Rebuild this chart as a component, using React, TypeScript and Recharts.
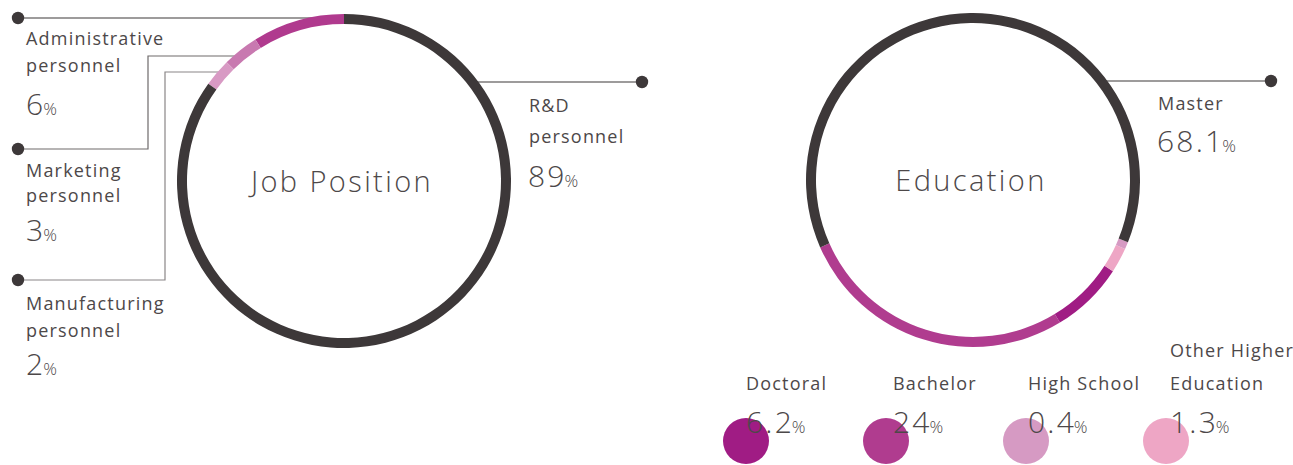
import React from 'react';
import { PieChart, Pie, Cell } from 'recharts';

// ---- Data ----
const jobNames = ['Administrative personnel', 'Marketing personnel', 'Manufacturing personnel', 'R&D personnel'];
const jobLabelValues = ['6', '3', '2', '89'];
const jobArcShares = [8.9, 3.5, 2.7, 84.9];
const jobColors = ['#b03a8e', '#c879b0', '#d89ac4', '#3d3839'];

const eduNames = ['Bachelor', 'Doctoral', 'Other Higher Education', 'High School', 'Master'];
const eduLabelValues = ['24', '6.2', '1.3', '0.4', '68.1'];
const eduArcShares = [27.1, 7.1, 2.4, 0.7, 62.7];
const eduColors = ['#b03c8f', '#a01c84', '#eea6c5', '#d69ac3', '#3d3839'];

const legendOrder = ['Doctoral', 'Bachelor', 'High School', 'Other Higher Education'];
const legendLines: Record<string, string[]> = {
  Doctoral: ['Doctoral'],
  Bachelor: ['Bachelor'],
  'High School': ['High School'],
  'Other Higher Education': ['Other Higher', 'Education'],
};

const jobData = jobNames.map((name, i) => ({ name, arc: jobArcShares[i], label: jobLabelValues[i] }));
const eduData = eduNames.map((name, i) => ({ name, arc: eduArcShares[i], label: eduLabelValues[i] }));

const W = 1293;
const H = 465;
const FONT = '"Open Sans", sans-serif';
const TXT = '#4d4849';
const DARK = '#3d3839';

function Num({ x, y, v }: { x: number; y: number; v: string }) {
  return (
    <text x={x} y={y} fill={TXT} fontFamily={FONT} fontWeight={300}>
      <tspan fontSize={30} letterSpacing={2.2}>{v}</tspan>
      <tspan fontSize={17} letterSpacing={0} dx={-2.2}>%</tspan>
    </text>
  );
}

function Label({ x, y, t }: { x: number; y: number; t: string }) {
  return (
    <text x={x} y={y} fill={TXT} fontFamily={FONT} fontSize={18} letterSpacing={1.2} fontWeight={400}>
      {t}
    </text>
  );
}

export default function App() {
  const jv = (n: string) => jobData.find((d) => d.name === n)!.label;
  const ev = (n: string) => eduData.find((d) => d.name === n)!.label;
  const legendX = [746, 893, 1028, 1170];
  const circleX = [746, 886, 1026, 1166];
  return (
    <div style={{ position: 'absolute', left: 0, top: 0, width: W, height: H, background: '#fff' }}>
      {/* connectors below ring */}
      <svg width={W} height={H} style={{ position: 'absolute', left: 0, top: 0 }}>
        <path d="M18,18 H315" stroke={DARK} strokeWidth={1.2} fill="none" />
        <path d="M18,149 H148 V56 H238" stroke="#6e6a6b" strokeWidth={1.2} fill="none" />
        <path d="M18,280 H165 V72 H222" stroke="#8a8687" strokeWidth={1.2} fill="none" />
        <path d="M472,82 H642" stroke={DARK} strokeWidth={1.2} fill="none" />
        <path d="M1100,81 H1271" stroke={DARK} strokeWidth={1.2} fill="none" />
        {[[18, 18], [18, 149], [18, 280], [642, 82], [1271, 81]].map(([x, y], i) => (
          <circle key={i} cx={x} cy={y} r={6.2} fill={DARK} />
        ))}
      </svg>
      <div style={{ position: 'absolute', left: 0, top: 0 }}>
        <PieChart width={W} height={H} margin={{ top: 0, right: 0, bottom: 0, left: 0 }}>
          <Pie
            data={jobData}
            dataKey="arc"
            nameKey="name"
            cx={344}
            cy={181}
            innerRadius={157}
            outerRadius={167}
            startAngle={90}
            endAngle={450}
            stroke="none"
            isAnimationActive={false}
          >
            {jobData.map((d, i) => (
              <Cell key={d.name} fill={jobColors[i]} />
            ))}
          </Pie>
          <Pie
            data={eduData}
            dataKey="arc"
            nameKey="name"
            cx={973}
            cy={180}
            innerRadius={157}
            outerRadius={167}
            startAngle={203.8}
            endAngle={563.8}
            stroke="none"
            isAnimationActive={false}
          >
            {eduData.map((d, i) => (
              <Cell key={d.name} fill={eduColors[i]} />
            ))}
          </Pie>
        </PieChart>
      </div>
      <svg width={W} height={H} style={{ position: 'absolute', left: 0, top: 0, pointerEvents: 'none' }}>
        {/* centre titles */}
        <text x={342} y={192} textAnchor="middle" fill={TXT} fontFamily={FONT} fontSize={29} letterSpacing={2.4} fontWeight={300}>
          Job Position
        </text>
        <text x={971} y={191} textAnchor="middle" fill={TXT} fontFamily={FONT} fontSize={29} letterSpacing={2.4} fontWeight={300}>
          Education
        </text>

        {/* left labels */}
        <Label x={26} y={45} t="Administrative" />
        <Label x={26} y={72} t="personnel" />
        <Num x={26} y={115} v={jv('Administrative personnel')} />

        <Label x={26} y={177} t="Marketing" />
        <Label x={26} y={202} t="personnel" />
        <Num x={26} y={241} v={jv('Marketing personnel')} />

        <Label x={26} y={310} t="Manufacturing" />
        <Label x={26} y={337} t="personnel" />
        <Num x={26} y={375} v={jv('Manufacturing personnel')} />

        <Label x={529} y={112} t="R&D" />
        <Label x={529} y={143} t="personnel" />
        <Num x={528} y={187} v={jv('R&D personnel')} />

        <Label x={1158} y={110} t="Master" />
        <Num x={1157} y={152} v={ev('Master')} />

        {/* legend circles */}
        {legendOrder.map((n, i) => (
          <circle key={n} cx={circleX[i]} cy={441} r={23} fill={eduColors[eduNames.indexOf(n)]} />
        ))}
        {legendOrder.map((n, i) => {
          const lines = legendLines[n];
          return (
            <g key={n}>
              {lines.map((l, j) => (
                <Label key={l} x={legendX[i]} y={390 - (lines.length - 1 - j) * 33} t={l} />
              ))}
              <Num x={legendX[i]} y={433} v={ev(n)} />
            </g>
          );
        })}
      </svg>
    </div>
  );
}
